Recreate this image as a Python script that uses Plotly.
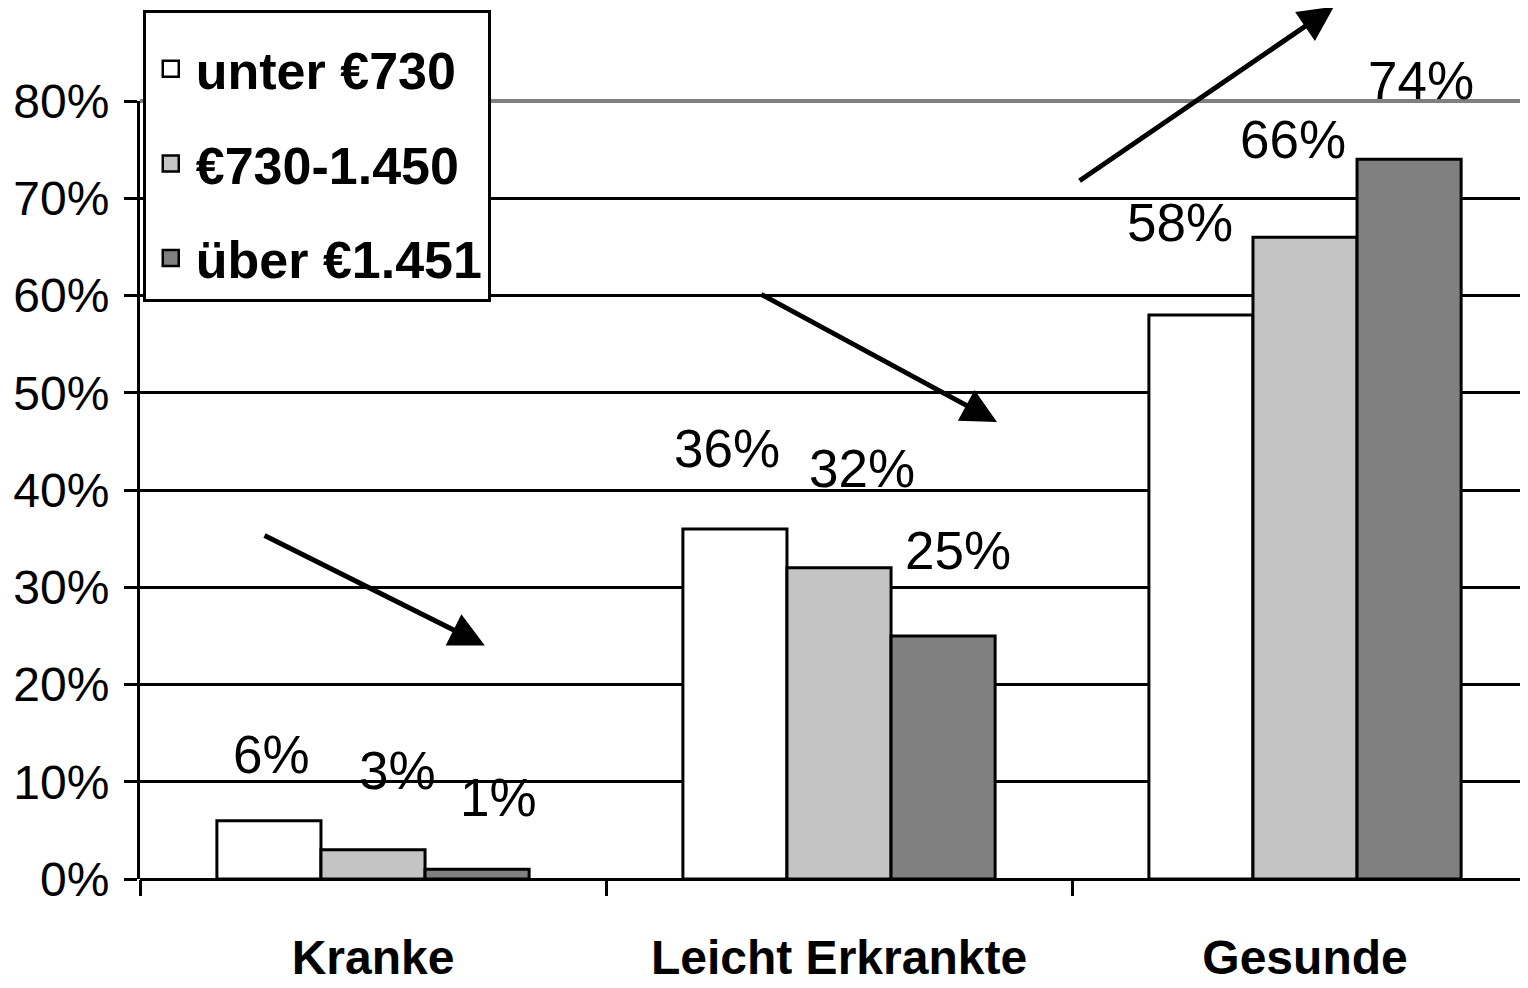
import plotly.graph_objects as go

categories = ["Kranke", "Leicht Erkrankte", "Gesunde"]
series_names = ["unter €730", "€730-1.450", "über €1.451"]
values_low = [6, 36, 58]
values_mid = [3, 32, 66]
values_high = [1, 25, 74]
series_values = [values_low, values_mid, values_high]
series_colors = ["#ffffff", "#c4c4c4", "#808080"]
y_ticks = [0, 10, 20, 30, 40, 50, 60, 70, 80]

FONT = "Liberation Sans, Arial, sans-serif"

fig = go.Figure()
for i, (name, vals, col) in enumerate(zip(series_names, series_values, series_colors)):
    fig.add_trace(go.Bar(
        x=categories, y=vals, name=name, showlegend=False,
        marker=dict(color=col, line=dict(color="black", width=3)),
    ))
# legend entries with larger square swatches
for i, (name, col) in enumerate(zip(series_names, series_colors)):
    fig.add_trace(go.Scatter(
        x=[None], y=[None], mode="markers", name=name, legendgroup=f"g{i}",
        marker=dict(symbol="square", size=16, color=col, line=dict(color="black", width=2.5)),
    ))

# data labels placed above bars (offsets per category [series])
label_xshift = [[2, 24, 21], [-8, 23, 15], [-21, -12, 12]]
label_yshift = [[66, 79, 72], [80, 99, 85], [92, 98, 79]]
bar_w = 104
for si, vals in enumerate(series_values):
    for ci, v in enumerate(vals):
        fig.add_annotation(
            x=categories[ci], y=v, xref="x", yref="y",
            text=f"{v}%", showarrow=False,
            xshift=(si - 1) * bar_w + label_xshift[ci][si],
            yshift=label_yshift[ci][si],
            font=dict(family=FONT, size=53, color="black"),
        )

# trend arrows (tail -> head, in data coordinates)
arrows = [
    ((-0.236, 35.4), (0.240, 24.0)),
    ((0.830, 60.2), (1.339, 47.0)),
    ((1.513, 71.7), (2.062, 89.7)),
]
for (tx, ty), (hx, hy) in arrows:
    fig.add_annotation(
        x=hx, y=hy, ax=tx, ay=ty, xref="x", yref="y", axref="x", ayref="y",
        showarrow=True, arrowhead=2, arrowsize=1.4, arrowwidth=5, arrowcolor="black",
        text="",
    )

# gray top gridline at 80% (top edge of the plot area)
fig.add_shape(type="line", xref="paper", yref="paper", x0=0, x1=1, y0=1, y1=1,
              line=dict(color="#808080", width=4), layer="above")

fig.update_layout(
    width=1520, height=980,
    margin=dict(l=132, r=0, t=93, b=109),
    paper_bgcolor="white", plot_bgcolor="white",
    barmode="group", bargap=0.33, bargroupgap=0,
    font=dict(family=FONT, size=48, color="black"),
    showlegend=True,
    legend=dict(
        x=0.002, y=1.117, xanchor="left", yanchor="top",
        bgcolor="white", bordercolor="black", borderwidth=3,
        font=dict(family=FONT, size=52, color="black", weight="bold"),
        title=dict(text=" ", font=dict(size=12)),
        tracegroupgap=24, traceorder="grouped", itemwidth=40,
    ),
    xaxis=dict(
        range=[-0.5, 2.4785], showgrid=False, showline=False, automargin=False,
        ticks="outside", tickson="boundaries", ticklen=16, tickwidth=3, tickcolor="black",
        tickfont=dict(family=FONT, size=48, color="black", weight="bold"),
        ticklabelstandoff=46,
    ),
    yaxis=dict(
        range=[0, 80], tickvals=y_ticks, ticktext=[f"{t}%" for t in y_ticks],
        automargin=False,
        showgrid=True, gridcolor="black", gridwidth=3,
        showline=True, linecolor="black", linewidth=3,
        zeroline=True, zerolinecolor="black", zerolinewidth=3,
        ticks="outside", ticklen=13, tickwidth=3, tickcolor="black",
        tickfont=dict(family=FONT, size=48, color="black"),
        ticklabelstandoff=5,
    ),
)

fig.write_html("out.html")
